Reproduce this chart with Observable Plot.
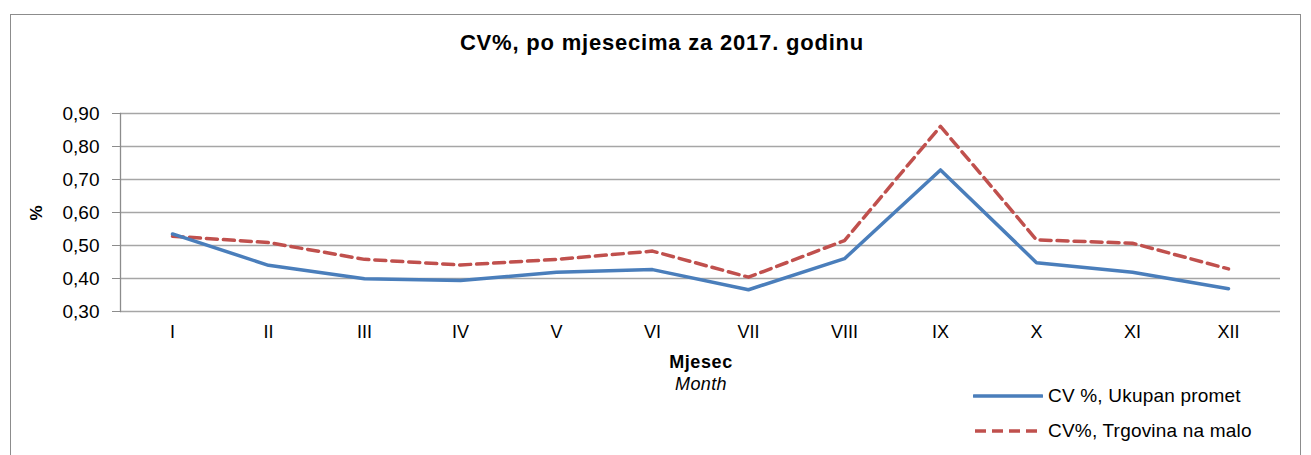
<!DOCTYPE html>
<html>
<head>
<meta charset="utf-8">
<script src="https://cdn.jsdelivr.net/npm/d3@7"></script>
<script src="https://cdn.jsdelivr.net/npm/@observablehq/plot@0.6"></script>
<style>
  html, body { margin: 0; padding: 0; background: #fff; }
  body { width: 1311px; height: 455px; overflow: hidden; font-family: "Liberation Sans", Arial, sans-serif; }
  #wrap { position: relative; width: 1311px; height: 455px; }
  #frame { position: absolute; left: 10px; top: 14px; width: 1291px; height: 460px; border: 1px solid #8c8c8c; box-sizing: border-box; }
  #title { position: absolute; left: 0; width: 1324px; top: 30px; text-align: center; font-weight: bold; font-size: 22px; letter-spacing: 0.8px; color: #000; }
  #chart { position: absolute; left: 0; top: 0; }
  #xt1 { position: absolute; left: 601px; width: 200px; top: 352px; text-align: center; font-weight: bold; font-size: 18px; letter-spacing: 0.6px; color: #000; }
  #xt2 { position: absolute; left: 601px; width: 200px; top: 374px; text-align: center; font-style: italic; font-size: 18px; letter-spacing: 0.4px; color: #000; }
  #yt { position: absolute; left: 37px; top: 213px; transform: translate(-50%, -50%) rotate(-90deg); font-weight: bold; font-size: 17px; color: #000; }
  .leg { position: absolute; left: 973px; font-size: 19px; letter-spacing: 0.2px; color: #000; display: flex; align-items: center; }
  .leg svg { margin-right: 5px; }
</style>
</head>
<body>
<div id="wrap">
  <div id="frame"></div>
  <div id="title">CV%, po mjesecima za 2017. godinu</div>
  <div id="chart"></div>
  <div id="xt1">Mjesec</div>
  <div id="xt2">Month</div>
  <div id="yt">%</div>
  <div class="leg" style="top:385px"><svg width="70" height="8"><line x1="1" x2="69" y1="4" y2="4" stroke="#4a7ebb" stroke-width="3.5" stroke-linecap="round"/></svg>CV %, Ukupan promet</div>
  <div class="leg" style="top:420px"><svg width="70" height="8"><line x1="2" x2="70" y1="4" y2="4" stroke="#c0504d" stroke-width="3.5" stroke-dasharray="11,6"/></svg>CV%, Trgovina na malo</div>
</div>
<script>
const months = ["I","II","III","IV","V","VI","VII","VIII","IX","X","XI","XII"];
const ukupanPromet = [0.535,0.440,0.399,0.394,0.419,0.427,0.366,0.460,0.729,0.448,0.419,0.369];
const trgovinaNaMalo = [0.528,0.509,0.458,0.441,0.458,0.483,0.404,0.515,0.861,0.517,0.507,0.429];
const yTicks = [0.3,0.4,0.5,0.6,0.7,0.8,0.9];

const fmt = d => d.toFixed(2).replace(".", ",");
const rowsA = months.map((m, i) => ({m, v: ukupanPromet[i]}));
const rowsB = months.map((m, i) => ({m, v: trgovinaNaMalo[i]}));

const plot = Plot.plot({
  width: 1311,
  height: 455,
  marginLeft: 120,
  marginRight: 31,
  marginTop: 113,
  marginBottom: 144,
  style: { fontFamily: "Liberation Sans, Arial, sans-serif", fontSize: "19px", color: "#000", background: "transparent" },
  x: { type: "point", domain: months, padding: 0.5, label: null },
  y: { domain: [0.3, 0.9], label: null },
  marks: [
    Plot.ruleY(yTicks, { stroke: "#a6a6a6", strokeWidth: 1.3, strokeOpacity: 1 }),
    Plot.axisY(yTicks, { tickFormat: fmt, tickSize: 8, tickPadding: 13, stroke: "#8c8c8c", strokeOpacity: 1, fontSize: 19, fill: "#000", label: null }),
    Plot.frame({ anchor: "left", stroke: "#8c8c8c", strokeWidth: 1.3 }),
    Plot.axisX({ tickSize: 0, tickPadding: 14, fontSize: 18, fill: "#000", label: null }),
    Plot.lineY(rowsB, { x: "m", y: "v", stroke: "#c0504d", strokeWidth: 3.5, strokeDasharray: "11,6" }),
    Plot.lineY(rowsA, { x: "m", y: "v", stroke: "#4a7ebb", strokeWidth: 3.5 })
  ]
});
document.getElementById("chart").appendChild(plot);
</script>
</body>
</html>
